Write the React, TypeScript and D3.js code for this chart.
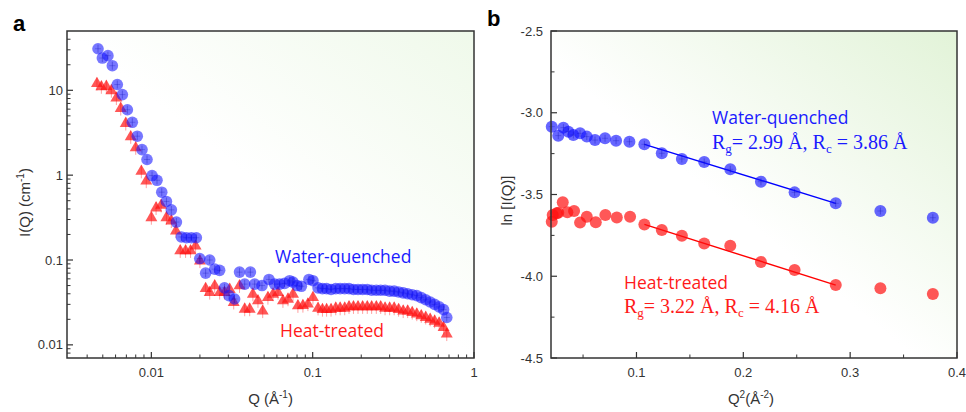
import React from "react";
import * as d3 from "d3";

// ---------- Panel a data (Q in Å^-1, I in cm^-1) ----------
const waterQ = [0.00467, 0.00497, 0.00538, 0.00573, 0.00615, 0.00661, 0.0071, 0.00762, 0.00818, 0.00875, 0.0094, 0.0101, 0.01084, 0.0116, 0.0124, 0.0133, 0.0143, 0.01535, 0.0165, 0.0177, 0.019, 0.01995, 0.0217, 0.023, 0.0247, 0.0265, 0.0284, 0.0303, 0.0328, 0.0352, 0.0379, 0.0411, 0.0437, 0.0485, 0.0536, 0.0581, 0.0624, 0.067, 0.072, 0.0755, 0.08, 0.0851, 0.0948, 0.1004, 0.108, 0.115, 0.122, 0.13, 0.139, 0.148, 0.158, 0.168, 0.179, 0.191, 0.204, 0.218, 0.232, 0.248, 0.264, 0.281, 0.3, 0.32, 0.341, 0.364, 0.388, 0.414, 0.442, 0.471, 0.502, 0.535, 0.57, 0.608, 0.648, 0.678];
const waterI = [30.9, 24.0, 25.6, 19.5, 11.7, 8.9, 5.9, 4.2, 2.88, 2.0, 1.53, 0.99, 0.87, 0.63, 0.49, 0.39, 0.28, 0.187, 0.183, 0.183, 0.183, 0.104, 0.07, 0.1, 0.078, 0.0755, 0.047, 0.038, 0.0347, 0.072, 0.052, 0.072, 0.052, 0.05, 0.059, 0.052, 0.052, 0.053, 0.057, 0.055, 0.05, 0.049, 0.059, 0.057, 0.047, 0.046, 0.046, 0.045, 0.046, 0.046, 0.046, 0.046, 0.045, 0.045, 0.045, 0.045, 0.044, 0.044, 0.044, 0.044, 0.043, 0.043, 0.042, 0.041, 0.04, 0.039, 0.038, 0.036, 0.034, 0.032, 0.03, 0.028, 0.026, 0.021];

const heatQ = [0.0046, 0.0049, 0.00526, 0.00565, 0.00607, 0.00646, 0.00694, 0.00745, 0.008, 0.00867, 0.0093, 0.01, 0.0107, 0.0115, 0.0124, 0.0133, 0.0142, 0.0151, 0.0163, 0.0175, 0.0188, 0.02, 0.0217, 0.023, 0.0247, 0.0265, 0.0284, 0.0306, 0.0324, 0.0352, 0.0379, 0.0407, 0.0426, 0.0458, 0.049, 0.0528, 0.0568, 0.061, 0.0654, 0.0703, 0.0755, 0.081, 0.087, 0.0934, 0.1004, 0.108, 0.115, 0.122, 0.13, 0.139, 0.148, 0.158, 0.168, 0.179, 0.191, 0.204, 0.218, 0.232, 0.248, 0.264, 0.281, 0.3, 0.32, 0.341, 0.364, 0.388, 0.414, 0.442, 0.471, 0.502, 0.535, 0.57, 0.608, 0.648, 0.678];
const heatI = [12.0, 11.0, 11.1, 9.9, 8.1, 6.1, 4.06, 2.83, 2.1, 1.11, 0.85, 0.315, 0.41, 0.44, 0.315, 0.288, 0.22, 0.128, 0.128, 0.128, 0.146, 0.097, 0.046, 0.0413, 0.0495, 0.0413, 0.0413, 0.045, 0.0316, 0.0495, 0.0263, 0.0263, 0.0395, 0.033, 0.025, 0.036, 0.0395, 0.0413, 0.033, 0.0345, 0.0395, 0.0288, 0.029, 0.0302, 0.036, 0.0269, 0.026, 0.026, 0.026, 0.027, 0.027, 0.027, 0.028, 0.028, 0.028, 0.028, 0.028, 0.028, 0.028, 0.028, 0.027, 0.027, 0.027, 0.026, 0.025, 0.025, 0.024, 0.023, 0.022, 0.021, 0.02, 0.019, 0.018, 0.016, 0.0134];

const aXTicks = [0.01, 0.1, 1];
const aXTickLabels = ["0.01", "0.1", "1"];
const aYTicks = [0.01, 0.1, 1, 10];
const aYTickLabels = ["0.01", "0.1", "1", "10"];

// ---------- Panel b data (Q^2 in Å^-2, ln I) ----------
const waterQ2 = [0.0207, 0.0268, 0.0316, 0.0363, 0.0409, 0.0472, 0.0535, 0.0612, 0.0706, 0.0809, 0.0934, 0.1074, 0.1237, 0.1425, 0.1634, 0.1878, 0.2165, 0.248, 0.2865, 0.3283, 0.3774];
const waterLnI = [-3.085, -3.14, -3.091, -3.116, -3.136, -3.126, -3.146, -3.167, -3.156, -3.171, -3.177, -3.193, -3.248, -3.283, -3.301, -3.346, -3.422, -3.487, -3.554, -3.601, -3.642];
const heatQ2 = [0.0207, 0.0216, 0.0253, 0.0268, 0.031, 0.0353, 0.0416, 0.0472, 0.0535, 0.0619, 0.0709, 0.0816, 0.094, 0.1074, 0.1237, 0.1425, 0.1634, 0.1878, 0.2165, 0.248, 0.2865, 0.3283, 0.3774];
const heatLnI = [-3.666, -3.625, -3.615, -3.611, -3.547, -3.609, -3.601, -3.672, -3.636, -3.67, -3.625, -3.64, -3.636, -3.683, -3.717, -3.752, -3.799, -3.813, -3.913, -3.962, -4.054, -4.074, -4.109];

// Guinier fit lines: [Q2 start, Q2 end], [lnI start, lnI end]
const waterFitQ2 = [0.1074, 0.2865];
const waterFitLn = [-3.193, -3.554];
const heatFitQ2 = [0.1074, 0.2865];
const heatFitLn = [-3.683, -4.054];

const bXTicks = [0.1, 0.2, 0.3, 0.4];
const bXTickLabels = ["0.1", "0.2", "0.3", "0.4"];
const bXMinor = [0.05, 0.15, 0.25, 0.35];
const bYTicks = [-2.5, -3.0, -3.5, -4.0, -4.5];
const bYTickLabels = ["-2.5", "-3.0", "-3.5", "-4.0", "-4.5"];
const bYMinor = [-2.75, -3.25, -3.75, -4.25];

const BLUE = "#1414ff";
const RED = "#ff1010";
const AXIS = "#333";
const FONT = "Liberation Sans, Arial, sans-serif";
const LABEL_FONT = "Open Sans, Noto Sans, sans-serif";
const SERIF = "Liberation Serif, Times New Roman, serif";

function minorLogTicks(lo: number, hi: number): number[] {
  const out: number[] = [];
  for (let e = Math.floor(Math.log10(lo)); e < Math.ceil(Math.log10(hi)); e++) {
    for (let m = 2; m <= 9; m++) {
      const v = m * Math.pow(10, e);
      if (v > lo && v < hi) out.push(v);
    }
  }
  return out;
}

function Background({ id, x, y, w, h, end, mid }: { id: string; x: number; y: number; w: number; h: number; end: string; mid: number }) {
  return (
    <g>
      <defs>
        <linearGradient id={id} x1="0" y1="1" x2="1" y2="0">
          <stop offset="0" stopColor="#ffffff" />
          <stop offset={mid} stopColor="#ffffff" />
          <stop offset="1" stopColor={end} />
        </linearGradient>
      </defs>
      <rect x={x} y={y} width={w} height={h} fill={`url(#${id})`} />
    </g>
  );
}

function PanelA() {
  const L = 67, T = 31, R = 474, B = 358;
  const x = d3.scaleLog().domain([0.003, 1]).range([L, R]);
  const y = d3.scaleLog().domain([0.007, 50]).range([B, T]);
  const xMinor = minorLogTicks(0.003, 1);
  const yMinor = minorLogTicks(0.007, 50);
  const tri = d3.symbol().type(d3.symbolTriangle).size(62)() as string;
  return (
    <g>
      <Background id="bgA" x={L} y={T} w={R - L} h={B - T} end="#eff9ea" mid={0.5} />
      {aXTicks.map((t) => (
        <line key={"ax" + t} x1={x(t)} x2={x(t)} y1={B} y2={B - 6} stroke={AXIS} strokeWidth={1.2} />
      ))}
      {xMinor.map((t) => (
        <line key={"axm" + t} x1={x(t)} x2={x(t)} y1={B} y2={B - 3.5} stroke={AXIS} strokeWidth={1} />
      ))}
      {aYTicks.map((t) => (
        <line key={"ay" + t} x1={L} x2={L + 6} y1={y(t)} y2={y(t)} stroke={AXIS} strokeWidth={1.2} />
      ))}
      {yMinor.map((t) => (
        <line key={"aym" + t} x1={L} x2={L + 3.5} y1={y(t)} y2={y(t)} stroke={AXIS} strokeWidth={1} />
      ))}
      {heatQ.map((q, i) => (
        <g key={"h" + i} transform={`translate(${x(q)},${y(heatI[i])})`}>
          <line x1={0} x2={0} y1={-6} y2={7} stroke={RED} strokeOpacity={0.4} strokeWidth={1} />
          <path d={tri} fill={RED} fillOpacity={0.7} />
        </g>
      ))}
      {waterQ.map((q, i) => (
        <g key={"w" + i} transform={`translate(${x(q)},${y(waterI[i])})`}>
          <circle r={5.8} fill={BLUE} fillOpacity={0.58} />
          <line x1={0} x2={0} y1={-4} y2={4} stroke="#0000aa" strokeOpacity={0.4} strokeWidth={0.8} />
          <line x1={-3} x2={3} y1={0} y2={0} stroke="#0000aa" strokeOpacity={0.3} strokeWidth={0.8} />
        </g>
      ))}
      <rect x={L} y={T} width={R - L} height={B - T} fill="none" stroke={AXIS} strokeWidth={1.5} />
      {aXTicks.map((t, i) => (
        <text key={"axl" + t} x={x(t)} y={B + 19} textAnchor="middle" fontFamily={FONT} fontSize={13} fill={AXIS}>
          {aXTickLabels[i]}
        </text>
      ))}
      {aYTicks.map((t, i) => (
        <text key={"ayl" + t} x={L - 4} y={y(t) + 4.5} textAnchor="end" fontFamily={FONT} fontSize={13} fill={AXIS}>
          {aYTickLabels[i]}
        </text>
      ))}
      <text x={(L + R) / 2} y={404} textAnchor="middle" fontFamily={FONT} fontSize={15} fill={AXIS}>
        Q (Å<tspan dy={-6} fontSize={10}>-1</tspan><tspan dy={6}>)</tspan>
      </text>
      <text transform={`translate(30,${(T + B) / 2 + 8}) rotate(-90)`} textAnchor="middle" fontFamily={FONT} fontSize={15} fill={AXIS}>
        I(Q) (cm<tspan dy={-6} fontSize={10}>-1</tspan><tspan dy={6}>)</tspan>
      </text>
      <text x={275} y={263} fontFamily={LABEL_FONT} fontSize={17.5} fill="#1a1aff">Water-quenched</text>
      <text x={280} y={337} fontFamily={LABEL_FONT} fontSize={17.5} fill="#ff1a1a">Heat-treated</text>
      <text x={13} y={31} fontFamily={FONT} fontSize={22} fontWeight="bold" fill="#000">a</text>
    </g>
  );
}

function PanelB() {
  const L = 551, T = 31, R = 957, B = 358;
  const x = d3.scaleLinear().domain([0.02, 0.4]).range([L, R]);
  const y = d3.scaleLinear().domain([-4.5, -2.5]).range([B, T]);
  const line = d3.line<[number, number]>().x((d) => x(d[0])).y((d) => y(d[1]));
  const wFit = line(waterFitQ2.map((q, i) => [q, waterFitLn[i]] as [number, number])) as string;
  const hFit = line(heatFitQ2.map((q, i) => [q, heatFitLn[i]] as [number, number])) as string;
  return (
    <g>
      <Background id="bgB" x={L} y={T} w={R - L} h={B - T} end="#e2f3d8" mid={0.45} />
      {bXTicks.map((t) => (
        <line key={"bx" + t} x1={x(t)} x2={x(t)} y1={B} y2={B - 6} stroke={AXIS} strokeWidth={1.2} />
      ))}
      {bXMinor.map((t) => (
        <line key={"bxm" + t} x1={x(t)} x2={x(t)} y1={B} y2={B - 3.5} stroke={AXIS} strokeWidth={1} />
      ))}
      {bYTicks.map((t) => (
        <line key={"by" + t} x1={L} x2={L + 6} y1={y(t)} y2={y(t)} stroke={AXIS} strokeWidth={1.2} />
      ))}
      {bYMinor.map((t) => (
        <line key={"bym" + t} x1={L} x2={L + 3.5} y1={y(t)} y2={y(t)} stroke={AXIS} strokeWidth={1} />
      ))}
      <path d={wFit} stroke="#0000ff" strokeWidth={1.4} fill="none" />
      <path d={hFit} stroke="#ff0000" strokeWidth={1.4} fill="none" />
      {waterQ2.map((q, i) => (
        <g key={"bw" + i} transform={`translate(${x(q)},${y(waterLnI[i])})`}>
          <circle r={6} fill={BLUE} fillOpacity={0.65} />
          <line x1={0} x2={0} y1={-3.5} y2={3.5} stroke="#0000aa" strokeOpacity={0.4} strokeWidth={0.8} />
          <line x1={-3} x2={3} y1={0} y2={0} stroke="#0000aa" strokeOpacity={0.3} strokeWidth={0.8} />
        </g>
      ))}
      {heatQ2.map((q, i) => (
        <g key={"bh" + i} transform={`translate(${x(q)},${y(heatLnI[i])})`}>
          <circle r={6} fill={RED} fillOpacity={0.7} />
        </g>
      ))}
      <rect x={L} y={T} width={R - L} height={B - T} fill="none" stroke={AXIS} strokeWidth={1.5} />
      {bXTicks.map((t, i) => (
        <text key={"bxl" + t} x={x(t)} y={B + 19} textAnchor="middle" fontFamily={FONT} fontSize={13} fill={AXIS}>
          {bXTickLabels[i]}
        </text>
      ))}
      {bYTicks.map((t, i) => (
        <text key={"byl" + t} x={L - 8} y={y(t) + 4.5} textAnchor="end" fontFamily={FONT} fontSize={13} fill={AXIS}>
          {bYTickLabels[i]}
        </text>
      ))}
      <text x={(L + R) / 2 - 3} y={404} textAnchor="middle" fontFamily={FONT} fontSize={15} fill={AXIS}>
        Q<tspan dy={-6} fontSize={10}>2</tspan><tspan dy={6}>(Å</tspan><tspan dy={-6} fontSize={10}>-2</tspan><tspan dy={6}>)</tspan>
      </text>
      <text transform={`translate(512,${(T + B) / 2 + 6}) rotate(-90)`} textAnchor="middle" fontFamily={FONT} fontSize={15} fill={AXIS}>
        ln [I(Q)]
      </text>
      <text x={712} y={124} fontFamily={LABEL_FONT} fontSize={17.5} fill="#1a1aff">Water-quenched</text>
      <text x={712} y={149} fontFamily={SERIF} fontSize={20} fill="#1a1aff">
        R<tspan dy={4} fontSize={13}>g</tspan><tspan dy={-4}>= 2.99 Å, R</tspan><tspan dy={4} fontSize={13}>c</tspan><tspan dy={-4}> = 3.86 Å</tspan>
      </text>
      <text x={624} y={289} fontFamily={LABEL_FONT} fontSize={17.5} fill="#ff1a1a">Heat-treated</text>
      <text x={624} y={313} fontFamily={SERIF} fontSize={20} fill="#ff1a1a">
        R<tspan dy={4} fontSize={13}>g</tspan><tspan dy={-4}>= 3.22 Å, R</tspan><tspan dy={4} fontSize={13}>c</tspan><tspan dy={-4}> = 4.16 Å</tspan>
      </text>
      <text x={487} y={26} fontFamily={FONT} fontSize={22} fontWeight="bold" fill="#000">b</text>
    </g>
  );
}

export default function App() {
  return (
    <svg width={966} height={412} style={{ position: "absolute", left: 0, top: 0, background: "#fff" }}>
      <PanelA />
      <PanelB />
    </svg>
  );
}
